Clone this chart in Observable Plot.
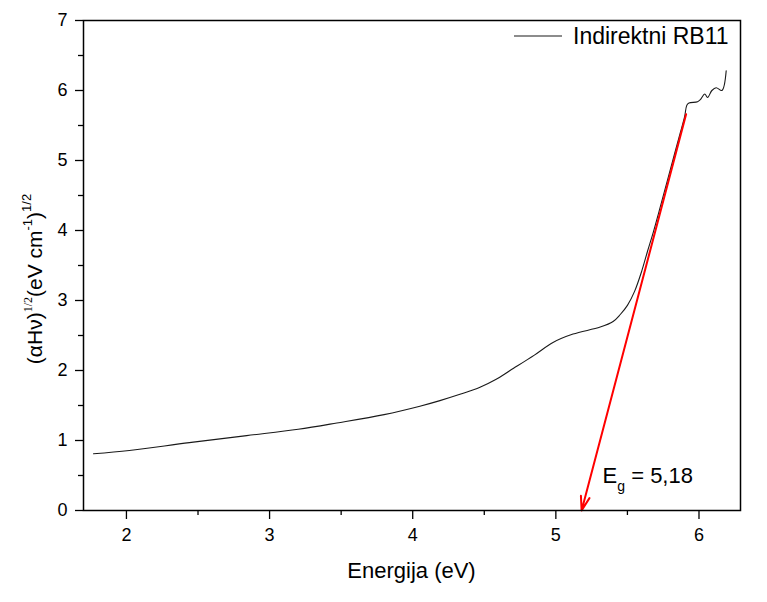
<!DOCTYPE html>
<html>
<head>
<meta charset="utf-8">
<script src="https://cdn.jsdelivr.net/npm/d3@7"></script>
<script src="https://cdn.jsdelivr.net/npm/@observablehq/plot@0.6"></script>
<style>
  html, body { margin: 0; padding: 0; background: #fff; }
  #chart { width: 767px; height: 602px; }
</style>
</head>
<body>
<div id="chart"></div>
<script>
// ---- data ----
const energy = [1.77, 2.02, 2.44, 2.84, 3.20, 3.47, 3.80, 4.05, 4.19, 4.33, 4.47, 4.58, 4.68, 4.85, 4.98, 5.12, 5.31, 5.40, 5.45, 5.50, 5.55, 5.60, 5.64, 5.68, 5.73, 5.78, 5.83, 5.87, 5.90, 5.915, 5.93, 5.99, 6.01, 6.04, 6.06, 6.09, 6.12, 6.16, 6.19];
const absorb = [0.81, 0.857, 0.97, 1.07, 1.16, 1.25, 1.37, 1.49, 1.57, 1.66, 1.76, 1.87, 2.00, 2.22, 2.40, 2.52, 2.62, 2.70, 2.80, 2.93, 3.13, 3.42, 3.70, 3.97, 4.34, 4.72, 5.10, 5.40, 5.63, 5.79, 5.82, 5.84, 5.87, 5.95, 5.90, 6.00, 6.04, 6.00, 6.28];
const seriesName = "Indirektni RB11";
const fitStart = [5.91, 5.66];   // [energy, value]
const fitEnd = [5.18, 0];        // band gap intercept
const gapLabel = {x: 5.33, y: 0.39, main: "E", sub: "g", rest: "= 5,18"};
const xTicks = [2, 3, 4, 5, 6];
const xMinor = [2.5, 3.5, 4.5, 5.5];
const yTicks = [0, 1, 2, 3, 4, 5, 6, 7];
const yMinor = [0.5, 1.5, 2.5, 3.5, 4.5, 5.5, 6.5];
const xTitle = "Energija (eV)";

const curve = energy.map((e, i) => ({e, v: absorb[i]}));
const fit = [{x1: fitStart[0], y1: fitStart[1], x2: fitEnd[0], y2: fitEnd[1]}];

const FONT = "Arial, 'Liberation Sans', sans-serif";

const plot = Plot.plot({
  width: 767,
  height: 602,
  marginLeft: 83,
  marginRight: 27,
  marginTop: 20,
  marginBottom: 92,
  style: {fontFamily: FONT, fontSize: "18px", color: "black", background: "white"},
  x: {domain: [1.7, 6.29]},
  y: {domain: [0, 7]},
  marks: [
    Plot.axisX({ticks: xTicks, tickSize: 9, tickPadding: 9, tickFormat: d => String(d), label: null, strokeWidth: 1.3}),
    Plot.axisX({ticks: xMinor, tickSize: 5, tickFormat: () => "", label: null, strokeWidth: 1.3}),
    Plot.axisY({ticks: yTicks, tickSize: 8, tickPadding: 8, tickFormat: d => String(d), label: null, strokeWidth: 1.3}),
    Plot.axisY({ticks: yMinor, tickSize: 5, tickFormat: () => "", label: null, strokeWidth: 1.3}),
    Plot.line(curve, {x: "e", y: "v", stroke: "#1a1a1a", strokeWidth: 1.1, curve: "catmull-rom"}),
    Plot.arrow(fit, {x1: "x1", y1: "y1", x2: "x2", y2: "y2", stroke: "#ff0000", strokeWidth: 2, headLength: 11, headAngle: 35}),
    Plot.frame({stroke: "black", strokeWidth: 1.5})
  ]
});

document.getElementById("chart").appendChild(plot);

const svg = d3.select(plot);
const sx = plot.scale("x"), sy = plot.scale("y");
const W = 767, H = 602, mL = 83, mR = 27, mT = 20, mB = 92;

// x axis title
svg.append("text")
  .attr("x", mL + (W - mL - mR) / 2)
  .attr("y", 578)
  .attr("text-anchor", "middle")
  .attr("font-family", FONT)
  .attr("font-size", 22)
  .attr("fill", "black")
  .text(xTitle);

// y axis title with superscripts
const yt = svg.append("text")
  .attr("transform", `translate(42,${mT + (H - mT - mB) / 2 + 14}) rotate(-90)`)
  .attr("text-anchor", "middle")
  .attr("font-family", FONT)
  .attr("font-size", 21)
  .attr("fill", "black");
yt.append("tspan").text("(\u03B1H\u03BD)");
yt.append("tspan").attr("font-size", 12).attr("dy", -10).attr("font-family", "'Liberation Serif', serif").text("1/2");
yt.append("tspan").attr("dy", 10).text("(eV cm");
yt.append("tspan").attr("font-size", 13).attr("dy", -10).text("-1");
yt.append("tspan").attr("dy", 10).text(")");
yt.append("tspan").attr("font-size", 13).attr("dy", -11).text("1/2");

// legend
const lx = W - mR - 222, ly = mT + 16;
svg.append("line")
  .attr("x1", lx - 4).attr("x2", lx + 44)
  .attr("y1", ly).attr("y2", ly)
  .attr("stroke", "#1a1a1a").attr("stroke-width", 1.1);
svg.append("text")
  .attr("x", lx + 55).attr("y", ly + 8)
  .attr("text-anchor", "start")
  .attr("font-family", FONT).attr("font-size", 23).attr("fill", "black")
  .text(seriesName);

// band gap label
const gt = svg.append("text")
  .attr("x", sx.apply(gapLabel.x))
  .attr("y", sy.apply(gapLabel.y))
  .attr("text-anchor", "start")
  .attr("font-family", FONT).attr("font-size", 22).attr("fill", "black");
gt.append("tspan").text(gapLabel.main);
gt.append("tspan").attr("font-size", 14).attr("dy", 8).text(gapLabel.sub);
gt.append("tspan").attr("dy", -8).text(" " + gapLabel.rest);
</script>
</body>
</html>
